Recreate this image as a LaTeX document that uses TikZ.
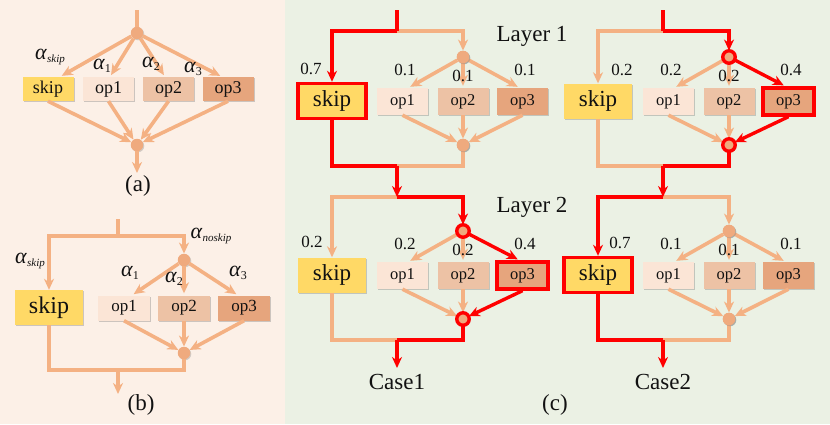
\documentclass[tikz,border=0pt]{standalone}
\usepackage{fontspec}
\setmainfont{Liberation Serif}
\usetikzlibrary{arrows.meta,positioning,calc,shadows}
\definecolor{cPeach}{HTML}{FCF0E7}
\definecolor{cMint}{HTML}{EBF1E4}
\definecolor{cLine}{HTML}{F4B183}
\definecolor{cDot}{HTML}{EFAA7E}
\definecolor{cSkip}{HTML}{FFD966}
\definecolor{cOpA}{HTML}{FBE5D6}
\definecolor{cOpB}{HTML}{EDC2A5}
\definecolor{cOpC}{HTML}{E6A57D}
\definecolor{cHot}{HTML}{FF0000}
\definecolor{cInk}{HTML}{111111}
\tikzset{
  opbox/.style={inner sep=0pt, minimum width=51pt, minimum height=27pt, text=cInk,
     font=\fontsize{16.5}{16.5}\selectfont,
     drop shadow={shadow xshift=1.2pt, shadow yshift=-1.2pt, opacity=.35, fill=black!55}},
  minibox/.style={opbox, minimum height=24pt, font=\fontsize{18}{18}\selectfont},
  midbox/.style={opbox, minimum width=52pt, minimum height=25pt, font=\fontsize{17}{17}\selectfont},
  skipbox/.style={opbox, fill=cSkip, minimum width=68pt, minimum height=35pt,
     font=\fontsize{23}{23}\selectfont},
  hub/.style={circle, fill=cDot, inner sep=0pt, minimum size=12.5pt,
     drop shadow={shadow xshift=1pt, shadow yshift=-1pt, opacity=.3, fill=black!55}},
  wire/.style={draw=cLine, line width=3.6pt},
  flow/.style={wire, -{Stealth[length=11pt, width=10pt, inset=3.5pt]}},
  hot/.style={draw=cHot, line width=3.4pt},
  cold/.style={},
  weight/.style={font=\fontsize{17}{17}\selectfont, text=cInk, inner sep=0pt},
  alpha/.style={font=\fontsize{22}{22}\selectfont, text=cInk, inner sep=0pt},
  caption/.style={font=\fontsize{23}{23}\selectfont, text=cInk},
}
% alpha with a small lowered index
\newcommand{\alw}[1]{\textit{α}\raisebox{-3.5pt}{\fontsize{11}{11}\selectfont\textit{#1}}}
\newcommand{\aln}[1]{\textit{α}\raisebox{-3.5pt}{\fontsize{12}{12}\selectfont #1}}
% one mixed layer of (c): name, x shift, y shift, skip look, op3 look, three weights
\newcommand{\mixcell}[8]{%
  \begin{scope}[shift={(#2,#3)}]
    \node[hub] (#1hub) at (463,57) {};
    \node[opbox, fill=cOpA] (#1op1) at (402.5,101.5) {op1};
    \node[opbox, fill=cOpB] (#1op2) at (463,101.5) {op2};
    \node[opbox, fill=cOpC, #5] (#1op3) at (522.5,101.5) {op3};
    \node[skipbox, #4] (#1skip) at (332,101) {skip};
    \node[hub] (#1merge) at (463,145) {};
    \coordinate (#1join) at (397,166);
    \draw[flow, shorten >=2pt] (#1hub) -- ([xshift=6pt]#1op1.north);
    \draw[flow, shorten >=2pt] (#1hub) -- (#1op2.north);
    \draw[flow] (#1op1.south) -- (#1merge);
    \draw[flow] (#1op2.south) -- (#1merge);
    \draw[wire, #4] (#1skip.south) |- (#1join);
    \draw[wire, #5] (#1merge) |- (#1join);
    \draw[flow, shorten >=2pt, #5] (#1hub) -- ([xshift=-3pt]#1op3.north);
    \draw[flow, #5] (#1op3.south) -- (#1merge);
    \node[hub, #5] at (#1hub) {};
    \node[hub, #5] at (#1merge) {};
    \node[weight] at (405,70) {#6};
    \node[weight] at (463,76) {#7};
    \node[weight] at (525,70) {#8};
  \end{scope}}

\begin{document}
\begin{tikzpicture}[x=1pt, y=-1pt]
  \fill[cPeach] (0,0) rectangle (285,424);
  \fill[cMint] (285,0) rectangle (830,424);

  % (a) plain mixed layer
  \node[hub] (asplit) at (137,33) {};
  \node[minibox, fill=cSkip] (askip) at (48,89) {skip};
  \node[minibox, fill=cOpA] (aop1) at (108.5,89) {op1};
  \node[minibox, fill=cOpB] (aop2) at (168.5,89) {op2};
  \node[minibox, fill=cOpC] (aop3) at (228,89) {op3};
  \node[hub] (amerge) at (137,145) {};
  \coordinate (ain) at (137,10);
  \coordinate (aout) at (137,173);
  \draw[wire] (ain) -- (asplit);
  \draw[flow, shorten >=2pt] (asplit) -- ([xshift=12pt]askip.north);
  \draw[flow, shorten >=2pt] (asplit) -- ([xshift=1.5pt]aop1.north);
  \draw[flow, shorten >=2pt] (asplit) -- ([xshift=-3.5pt]aop2.north);
  \draw[flow, shorten >=2pt] (asplit) -- ([xshift=-6pt]aop3.north);
  \draw[flow] (askip.south) -- (amerge);
  \draw[flow] (aop1.south) -- (amerge);
  \draw[flow] (aop2.south) -- (amerge);
  \draw[flow] (aop3.south) -- (amerge);
  \draw[flow] (amerge) -- (aout);
  \node[alpha] at (50,57) {\alw{skip}};
  \node[alpha] at (102,66) {\aln{1}};
  \node[alpha] at (151,64) {\aln{2}};
  \node[alpha] at (193,69) {\aln{3}};
  \node[caption] at (138,186) {(a)};

  % (b) skip split off in front
  \coordinate (bin) at (118,219);
  \coordinate (bsplit) at (118,236);
  \node[skipbox, font=\fontsize{24}{24}\selectfont] (bskip) at (49,307.5) {skip};
  \node[hub] (bhub) at (184,260) {};
  \node[midbox, fill=cOpA] (bop1) at (124,308) {op1};
  \node[midbox, fill=cOpB] (bop2) at (184,308) {op2};
  \node[midbox, fill=cOpC] (bop3) at (244,308) {op3};
  \node[hub] (bmerge) at (184,353) {};
  \coordinate (bjoin) at (118,370);
  \coordinate (bout) at (118,394);
  \draw[wire] (bin) -- (bsplit);
  \draw[flow] (bsplit) -| (bskip.north);
  \draw[flow] (bsplit) -| (bhub);
  \draw[flow, shorten >=2pt] (bhub) -- ([xshift=8pt]bop1.north);
  \draw[flow, shorten >=2pt] (bhub) -- (bop2.north);
  \draw[flow, shorten >=2pt] (bhub) -- ([xshift=-6pt]bop3.north);
  \draw[flow] (bop1.south) -- (bmerge);
  \draw[flow] (bop2.south) -- (bmerge);
  \draw[flow] (bop3.south) -- (bmerge);
  \draw[wire] (bskip.south) |- (bjoin);
  \draw[wire] (bmerge) |- (bjoin);
  \draw[flow] (bjoin) -- (bout);
  \node[alpha] at (211,236) {\alw{noskip}};
  \node[alpha] at (30,261) {\alw{skip}};
  \node[alpha] at (130,273) {\aln{1}};
  \node[alpha] at (174,279) {\aln{2}};
  \node[alpha] at (238,273) {\aln{3}};
  \node[caption] at (141,405) {(b)};

  % (c) two stacked layers, two outcomes
  \mixcell{topl}{0}{0}{hot}{cold}{0.1}{0.1}{0.1}
  \mixcell{topr}{266}{0}{cold}{hot}{0.2}{0.2}{0.4}
  \mixcell{botl}{0}{174}{cold}{hot}{0.2}{0.2}{0.4}
  \mixcell{botr}{266}{174}{hot}{cold}{0.1}{0.1}{0.1}
  \node[weight] at (311,69) {0.7};
  \node[weight] at (622,70) {0.2};
  \node[weight] at (312,242) {0.2};
  \node[weight] at (620,243) {0.7};
  \coordinate (inl) at (397,10);
  \coordinate (splitl) at (397,31);
  \coordinate (inr) at (663,10);
  \coordinate (splitr) at (663,31);
  \coordinate (midl) at (397,197);
  \coordinate (midr) at (663,197);
  \coordinate (outl) at (397,368);
  \coordinate (outr) at (663,368);
  % cold branches first, hot path on top
  \draw[flow] (splitl) -| (toplhub);
  \draw[flow] (splitr) -| (toprskip.north);
  \draw[flow] (midl) -| (botlskip.north);
  \draw[flow] (midr) -| (botrhub);
  \draw[wire, hot] (inl) -- (splitl);
  \draw[flow, hot] (splitl) -| (toplskip.north);
  \draw[wire, hot] (inr) -- (splitr);
  \draw[flow, hot] (splitr) -| (toprhub);
  \draw[flow, hot] (topljoin) -- (midl);
  \draw[flow, hot] (midl) -| (botlhub);
  \draw[flow, hot] (toprjoin) -- (midr);
  \draw[flow, hot] (midr) -| (botrskip.north);
  \draw[flow, hot] (botljoin) -- (outl);
  \draw[flow, hot] (botrjoin) -- (outr);
  \node[caption] at (532,36) {Layer 1};
  \node[caption] at (532,207) {Layer 2};
  \node[caption, below=3pt of outl] (casel) {Case1};
  \node[caption, below=3pt of outr] (caser) {Case2};
  \node[caption] at (555,405) {(c)};
\end{tikzpicture}
\end{document}
